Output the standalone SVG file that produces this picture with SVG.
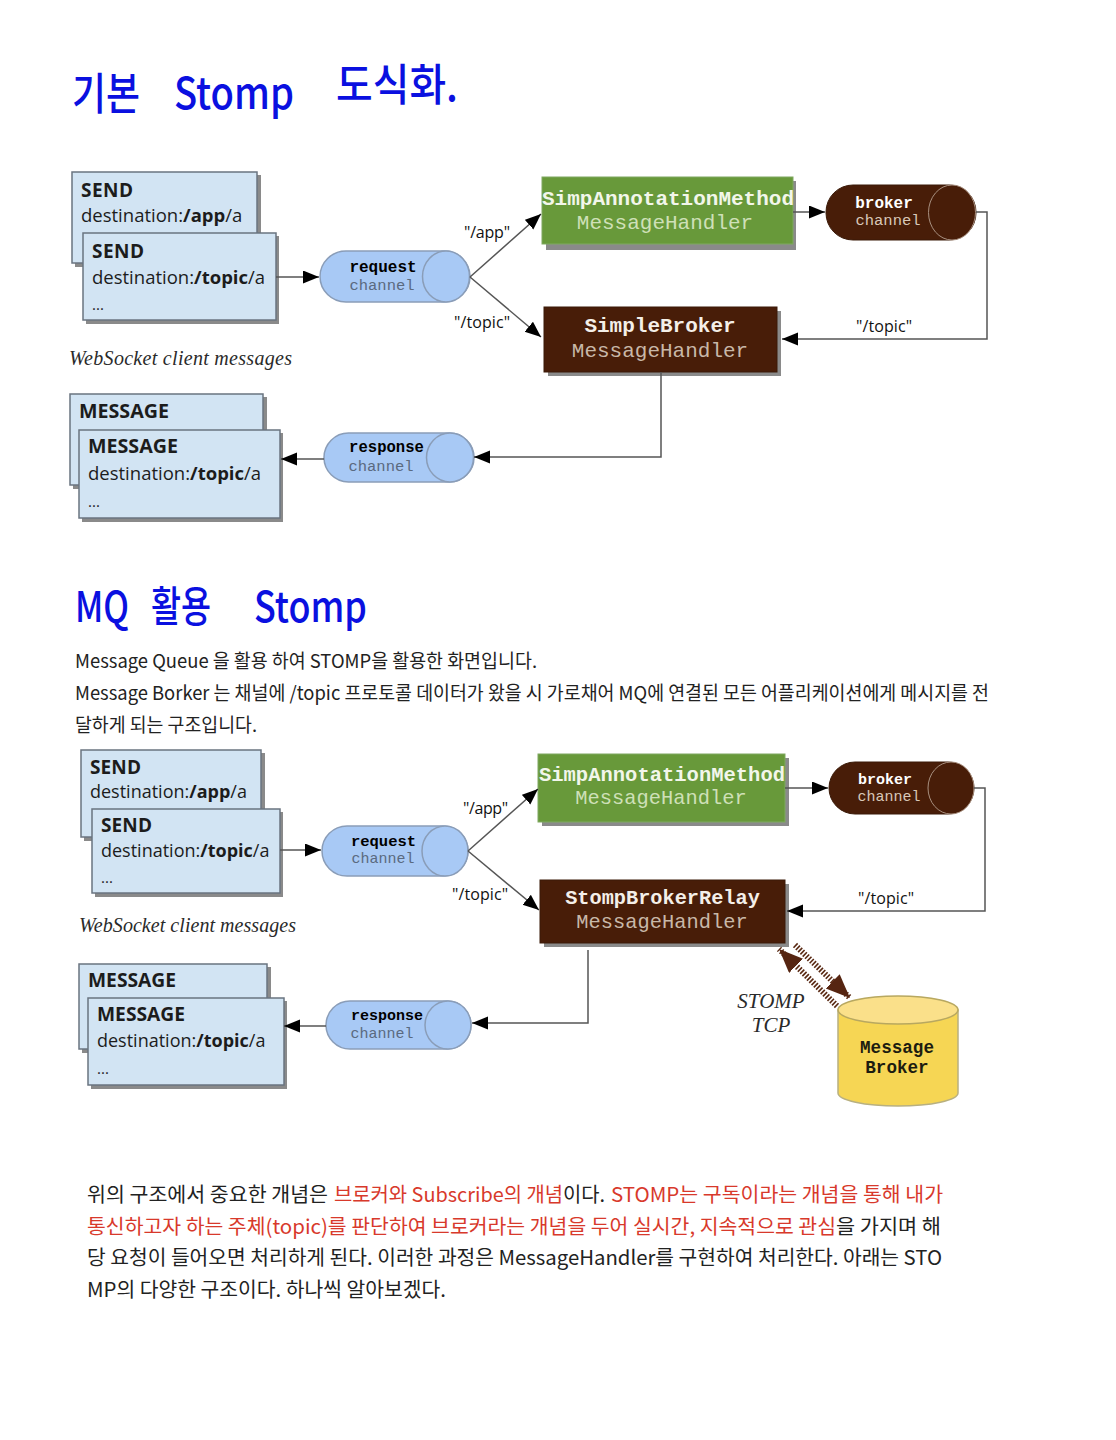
<svg xmlns="http://www.w3.org/2000/svg" width="1116" height="1440" viewBox="0 0 1116 1440">
<style>
.hand{font-family:"Noto Sans CJK KR","Noto Sans",sans-serif;fill:#0a10e0;font-weight:500}
.body{font-family:"Noto Sans CJK KR","Noto Sans",sans-serif;font-size:19px;fill:#222}
.sum{font-size:20px}
.red{fill:#d8392b}
.msg{fill:#d2e4f3;stroke:#6a7480;stroke-width:1.5}
.shadow{fill:#8a8a8a}
.comic{font-family:"Open Sans","DejaVu Sans",sans-serif;font-size:19px;fill:#1c1c1c}
.dest{font-size:18.5px}
.dest2{font-size:18px}
.dots{font-size:15px}
.b{font-weight:700}
.lab{font-family:"Open Sans","DejaVu Sans",sans-serif;font-size:16px;fill:#111}
.it{font-family:"Liberation Serif",serif;font-style:italic;font-size:20px;fill:#2a2a2a}
.it2{font-size:21px;text-anchor:middle}
.mono{font-family:"Liberation Mono",monospace;text-anchor:middle}
.bold{font-weight:700}
.con{fill:none;stroke:#555;stroke-width:1.5}
.blue{fill:#a8c9f5;stroke:#8a9db8;stroke-width:1.5}
.brown{fill:#481d08;stroke:#3a1a08;stroke-width:1}
.rim{fill:#481d08;stroke:#a89080;stroke-width:1}
.green{fill:#68993a;stroke:#7fa860}
.dash{fill:none;stroke:#5a2a14;stroke-width:6;stroke-dasharray:1.6 1.6}
</style>
<defs>
<marker id="a" markerUnits="userSpaceOnUse" markerWidth="17" markerHeight="14" refX="16" refY="6.5" orient="auto"><path d="M0 0L16 6.5L0 13Z" fill="#000"/></marker>
<marker id="d" markerUnits="userSpaceOnUse" markerWidth="25" markerHeight="21" refX="24" refY="10" orient="auto"><path d="M0 0L24 10L0 20Z" fill="#562511"/></marker>
</defs>

<g id="title1"><text class="hand" x="72" y="110" font-size="44" textLength="68" lengthAdjust="spacingAndGlyphs">기본</text><text class="hand" x="174" y="109" font-size="44" textLength="120" lengthAdjust="spacingAndGlyphs">Stomp</text><text class="hand" x="336" y="101" font-size="44" textLength="122" lengthAdjust="spacingAndGlyphs">도식화.</text></g>

<g id="send1">
<rect class="shadow" x="75" y="175" width="186" height="92"/><rect class="msg" x="72" y="172" width="185" height="91"/>
<text class="comic b" x="81" y="197" textLength="52">SEND</text><text class="comic dest" x="81" y="222">destination:<tspan class="b">/app</tspan>/a</text>
<rect class="shadow" x="86" y="236" width="193" height="88"/><rect class="msg" x="83" y="233" width="193" height="87"/>
<text class="comic b" x="92" y="258" textLength="52">SEND</text><text class="comic dest" x="92" y="284">destination:<tspan class="b">/topic</tspan>/a</text><text class="comic dots" x="92" y="310">...</text>
</g>
<text class="it" x="69" y="365" textLength="223">WebSocket client messages</text>

<g id="request1"><rect class="blue" x="320" y="251" width="150" height="51" rx="26"/><ellipse class="blue" cx="446" cy="276.500" rx="23.500" ry="25.500"/>
<text class="mono bold" x="383" y="272" font-size="16">request</text><text class="mono" x="382" y="290" font-size="15.500" fill="#5a6a80">channel</text></g>

<g id="green1"><rect class="shadow" x="546" y="181" width="250" height="69"/><rect class="green" x="542" y="177" width="251" height="67"/>
<text class="mono bold" x="668" y="205" font-size="21" fill="#f2f6ea">SimpAnnotationMethod</text><text class="mono" x="665" y="229" font-size="21" fill="#cfe0b8">MessageHandler</text></g>
<g id="broker1"><rect class="brown" x="826" y="185" width="150" height="55" rx="27"/><ellipse class="rim" cx="952" cy="212.500" rx="23.500" ry="27.500"/>
<text class="mono bold" x="884" y="208" font-size="16" fill="#fff">broker</text><text class="mono" x="888" y="225" font-size="15.500" fill="#d8c8b8">channel</text></g>
<g id="simple"><rect class="shadow" x="548" y="311" width="233" height="65"/><rect class="brown" x="544" y="307" width="233" height="65"/>
<text class="mono bold" x="660" y="332" font-size="21" fill="#f4efe8">SimpleBroker</text><text class="mono" x="660" y="357" font-size="21" fill="#c8b8a8">MessageHandler</text></g>
<g id="response1"><rect class="blue" x="324" y="433" width="150" height="49" rx="24.500"/><ellipse class="blue" cx="450" cy="457.500" rx="23.500" ry="24.500"/>
<text class="mono bold" x="386.500" y="452" font-size="15.600">response</text><text class="mono" x="381" y="471" font-size="15.500" fill="#5a6a80">channel</text></g>
<g id="message1">
<rect class="shadow" x="73" y="397" width="194" height="92"/><rect class="msg" x="70" y="394" width="193" height="91"/>
<text class="comic b" x="79" y="418" textLength="90" lengthAdjust="spacingAndGlyphs">MESSAGE</text>
<rect class="shadow" x="82" y="433" width="201" height="89"/><rect class="msg" x="79" y="430" width="201" height="88"/>
<text class="comic b" x="88" y="453" textLength="90" lengthAdjust="spacingAndGlyphs">MESSAGE</text><text class="comic dest" x="88" y="480">destination:<tspan class="b">/topic</tspan>/a</text><text class="comic dots" x="88" y="507">...</text>
</g>

<g id="connectors1">
<path class="con" marker-end="url(#a)" d="M276 277H319"/>
<path class="con" marker-end="url(#a)" d="M470 277L541 214"/>
<path class="con" marker-end="url(#a)" d="M470 277L541 337"/>
<path class="con" marker-end="url(#a)" d="M793 212H825"/>
<path class="con" marker-end="url(#a)" d="M976 212H987V339H782"/>
<path class="con" marker-end="url(#a)" d="M661 372V457H474"/>
<path class="con" marker-end="url(#a)" d="M324 459H281"/>
<text class="lab" x="464" y="238" textLength="46">"/app"</text>
<text class="lab" x="454" y="328" textLength="56">"/topic"</text>
<text class="lab" x="856" y="332" textLength="56">"/topic"</text>
</g>

<g id="title2"><text class="hand" x="75" y="622" font-size="42" textLength="54" lengthAdjust="spacingAndGlyphs">MQ</text><text class="hand" x="151" y="622" font-size="42" textLength="60" lengthAdjust="spacingAndGlyphs">활용</text><text class="hand" x="254" y="622" font-size="42" textLength="113" lengthAdjust="spacingAndGlyphs">Stomp</text></g>
<g id="intro">
<text class="body" x="75" y="668" textLength="462" lengthAdjust="spacingAndGlyphs">Message Queue 을 활용 하여 STOMP을 활용한 화면입니다.</text>
<text class="body" x="75" y="700" textLength="914" lengthAdjust="spacingAndGlyphs">Message Borker 는 채널에 /topic 프로토콜 데이터가 왔을 시 가로채어 MQ에 연결된 모든 어플리케이션에게 메시지를 전</text>
<text class="body" x="75" y="732" textLength="182" lengthAdjust="spacingAndGlyphs">달하게 되는 구조입니다.</text>
</g>

<g id="send2">
<rect class="shadow" x="84" y="753" width="181" height="88"/><rect class="msg" x="81" y="750" width="180" height="87"/>
<text class="comic b" x="90" y="774" textLength="51">SEND</text><text class="comic dest2" x="90" y="798">destination:<tspan class="b">/app</tspan>/a</text>
<rect class="shadow" x="95" y="812" width="188" height="85"/><rect class="msg" x="92" y="809" width="188" height="84"/>
<text class="comic b" x="101" y="832" textLength="51">SEND</text><text class="comic dest2" x="101" y="857">destination:<tspan class="b">/topic</tspan>/a</text><text class="comic dots" x="101" y="883">...</text>
</g>
<text class="it" x="79" y="932" textLength="217">WebSocket client messages</text>

<g id="request2"><rect class="blue" x="322" y="826" width="146" height="50" rx="25"/><ellipse class="blue" cx="445" cy="851" rx="23" ry="25"/>
<text class="mono bold" x="383.500" y="846" font-size="15.500">request</text><text class="mono" x="383" y="863" font-size="15" fill="#5a6a80">channel</text></g>
<g id="green2"><rect class="shadow" x="542" y="758" width="247" height="68"/><rect class="green" x="538" y="754" width="247" height="68"/>
<text class="mono bold" x="662" y="781" font-size="20.500" fill="#f2f6ea">SimpAnnotationMethod</text><text class="mono" x="661" y="804" font-size="20.400" fill="#cfe0b8">MessageHandler</text></g>
<g id="broker2"><rect class="brown" x="829" y="762" width="145" height="52" rx="26"/><ellipse class="rim" cx="951" cy="788" rx="23" ry="26"/>
<text class="mono bold" x="885" y="784" font-size="15" fill="#fff">broker</text><text class="mono" x="889" y="801" font-size="15" fill="#d8c8b8">channel</text></g>
<g id="relay"><rect class="shadow" x="544" y="884" width="245" height="63"/><rect class="brown" x="540" y="880" width="245" height="63"/>
<text class="mono bold" x="662.500" y="904" font-size="20.300" fill="#f4efe8">StompBrokerRelay</text><text class="mono" x="662" y="928" font-size="20.400" fill="#c8b8a8">MessageHandler</text></g>
<g id="response2"><rect class="blue" x="326" y="1001" width="145" height="48" rx="24"/><ellipse class="blue" cx="448" cy="1025" rx="23" ry="24"/>
<text class="mono bold" x="387" y="1020" font-size="15">response</text><text class="mono" x="382" y="1038" font-size="15" fill="#5a6a80">channel</text></g>
<g id="message2">
<rect class="shadow" x="82" y="967" width="189" height="86"/><rect class="msg" x="79" y="964" width="188" height="85"/>
<text class="comic b" x="88" y="987" textLength="88" lengthAdjust="spacingAndGlyphs">MESSAGE</text>
<rect class="shadow" x="91" y="1001" width="196" height="88"/><rect class="msg" x="88" y="998" width="196" height="87"/>
<text class="comic b" x="97" y="1021" textLength="88" lengthAdjust="spacingAndGlyphs">MESSAGE</text><text class="comic dest2" x="97" y="1047">destination:<tspan class="b">/topic</tspan>/a</text><text class="comic dots" x="97" y="1074">...</text>
</g>
<g id="mq"><path d="M838 1010V1093A60 13 0 0 0 958 1093V1010Z" fill="#f6d654" stroke="#b8b080" stroke-width="1.500"/><ellipse cx="898" cy="1010" rx="60" ry="14" fill="#fae08a" stroke="#b8a860" stroke-width="1.500"/>
<text class="mono bold" x="897" y="1053" font-size="17.600" fill="#1c1c10">Message</text><text class="mono bold" x="897" y="1073" font-size="17.600" fill="#1c1c10">Broker</text></g>
<text class="it it2" x="771" y="1008">STOMP</text><text class="it it2" x="771" y="1032">TCP</text>

<g id="connectors2">
<path class="con" marker-end="url(#a)" d="M280 850H321"/>
<path class="con" marker-end="url(#a)" d="M468 851L538 789"/>
<path class="con" marker-end="url(#a)" d="M468 851L539 910"/>
<path class="con" marker-end="url(#a)" d="M785 788H828"/>
<path class="con" marker-end="url(#a)" d="M974 788H985V911H787"/>
<path class="con" marker-end="url(#a)" d="M588 950V1023H472"/>
<path class="con" marker-end="url(#a)" d="M326 1026H284"/>
<path class="dash" marker-end="url(#d)" d="M837 1006L779 949"/>
<path class="dash" marker-end="url(#d)" d="M795 945L850 998"/>
<text class="lab" x="463" y="814" textLength="45">"/app"</text>
<text class="lab" x="452" y="900" textLength="56">"/topic"</text>
<text class="lab" x="858" y="904" textLength="56">"/topic"</text>
</g>

<g id="summary">
<text class="body sum" x="87" y="1202" textLength="241" lengthAdjust="spacingAndGlyphs">위의 구조에서 중요한 개념은</text>
<text class="body sum red" x="334" y="1202" textLength="229" lengthAdjust="spacingAndGlyphs">브로커와 Subscribe의 개념</text>
<text class="body sum" x="563" y="1202" textLength="42" lengthAdjust="spacingAndGlyphs">이다.</text>
<text class="body sum red" x="611" y="1202" textLength="332" lengthAdjust="spacingAndGlyphs">STOMP는 구독이라는 개념을 통해 내가</text>
<text class="body sum red" x="87" y="1234" textLength="749" lengthAdjust="spacingAndGlyphs">통신하고자 하는 주체(topic)를 판단하여 브로커라는 개념을 두어 실시간, 지속적으로 관심</text>
<text class="body sum" x="836" y="1234" textLength="105" lengthAdjust="spacingAndGlyphs">을 가지며 해</text>
<text class="body sum" x="87" y="1265" textLength="855" lengthAdjust="spacingAndGlyphs">당 요청이 들어오면 처리하게 된다. 이러한 과정은 MessageHandler를 구현하여 처리한다. 아래는 STO</text>
<text class="body sum" x="87" y="1297" textLength="359" lengthAdjust="spacingAndGlyphs">MP의 다양한 구조이다. 하나씩 알아보겠다.</text>
</g>
</svg>
